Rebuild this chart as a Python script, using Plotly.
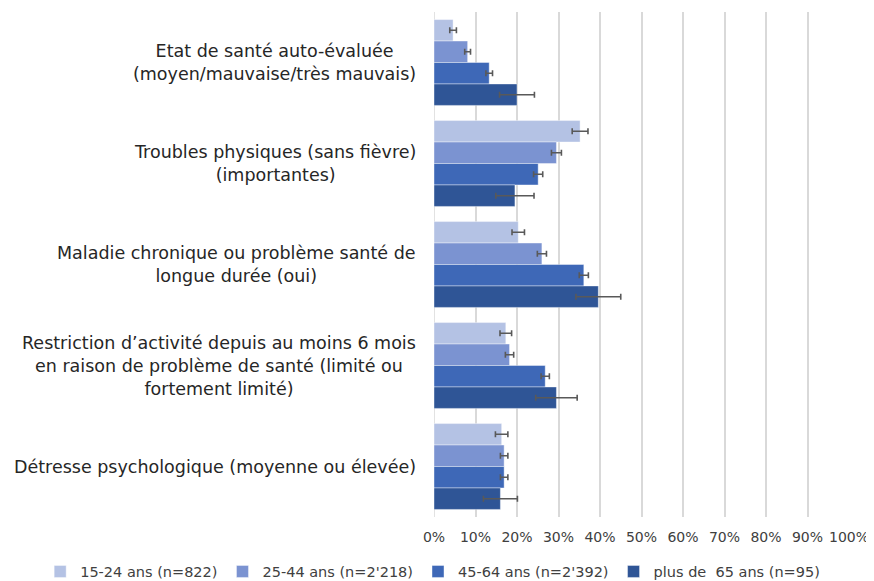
import plotly.graph_objects as go

categories = [
    "Etat de santé auto-évaluée<br>(moyen/mauvaise/très mauvais)",
    "Troubles physiques (sans fièvre)<br>(importantes)",
    "Maladie chronique ou problème santé de<br>longue durée (oui)",
    "Restriction d’activité depuis au moins 6 mois<br>en raison de problème de santé (limité ou<br>fortement limité)",
    "Détresse psychologique (moyenne ou élevée)",
]
series_names = [
    "15-24 ans (n=822)",
    "25-44 ans (n=2'218)",
    "45-64 ans (n=2'392)",
    "plus de  65 ans (n=95)",
]
values = [
    [4.6, 35.2, 20.3, 17.3, 16.3],
    [8.1, 29.5, 26.0, 18.2, 16.9],
    [13.3, 25.1, 36.1, 26.8, 16.9],
    [20.0, 19.5, 39.6, 29.5, 16.0],
]
errors = [
    [0.8, 1.9, 1.5, 1.4, 1.5],
    [0.7, 1.2, 1.1, 1.0, 0.9],
    [0.8, 1.1, 1.1, 1.0, 0.9],
    [4.2, 4.6, 5.4, 5.0, 4.1],
]
colors = ["#B4C2E4", "#7B93D1", "#3E68B7", "#2F5596"]
x_ticks = [i / 10 for i in range(11)]

FONT = "DejaVu Sans"
fig = go.Figure()
for name, vals, errs, col in zip(series_names, values, errors, colors):
    fig.add_trace(go.Bar(
        y=categories,
        x=[v / 100 for v in vals],
        name=name,
        orientation="h",
        marker=dict(color=col, line=dict(color="rgba(255,255,255,0.5)", width=0.8)),
        error_x=dict(type="data", array=[e / 100 for e in errs], visible=True,
                     color="#595959", thickness=1.6, width=3),
    ))

for cat in categories:
    fig.add_annotation(
        x=0, xref="paper", y=cat, yref="y",
        text=cat, showarrow=False, xanchor="right", yanchor="middle",
        align="center", xshift=-16,
        font=dict(family=FONT, size=17.5, color="#262626"),
    )

# page is rendered with an 8px body margin, so the figure is 8px smaller
fig.update_layout(
    width=866, height=573,
    margin=dict(l=426, r=25, t=4, b=64, autoexpand=False),
    plot_bgcolor="white", paper_bgcolor="white",
    barmode="group", bargap=0.15, bargroupgap=0,
    font=dict(family=FONT, size=14, color="#404040"),
    showlegend=True,
    legend=dict(
        orientation="h",
        x=-0.949, xanchor="left", y=-0.108, yanchor="middle",
        font=dict(family=FONT, size=14.5, color="#404040"),
        itemwidth=30, traceorder="normal",
    ),
    xaxis=dict(
        range=[0, 1], tickvals=x_ticks, tickformat=".0%",
        showgrid=True, gridcolor="#D9D9D9", gridwidth=1.5,
        zeroline=False, showline=False, ticks="", ticklabelstandoff=10,
        tickfont=dict(family=FONT, size=14, color="#404040"),
    ),
    yaxis=dict(
        autorange="reversed", showticklabels=False, showgrid=False,
        zeroline=False, showline=False, ticks="",
    ),
)
fig.add_shape(type="line", xref="x", yref="paper", x0=0, x1=0, y0=0, y1=1,
              line=dict(color="#D9D9D9", width=1.5), layer="below")

fig.write_html("out.html")
